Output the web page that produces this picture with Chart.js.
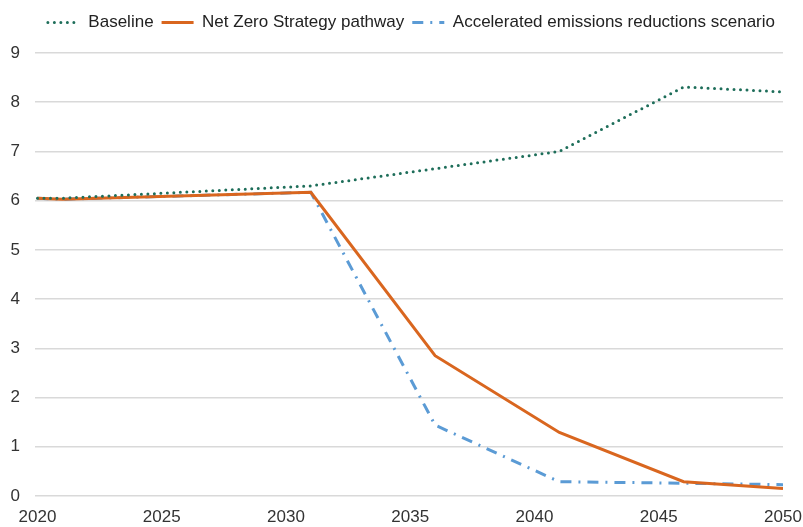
<!DOCTYPE html>
<html>
<head>
<meta charset="utf-8">
<script src="https://cdn.jsdelivr.net/npm/chart.js@4.4.0/dist/chart.umd.min.js"></script>
<style>
  html, body { margin: 0; padding: 0; background: #fff; }
  #wrap { width: 803px; height: 527px; }
</style>
</head>
<body>
<div id="wrap"><canvas id="chart" width="803" height="527"></canvas></div>
<script>
// jaren waarop de lijnen een knik hebben
const years = [2020, 2021, 2031, 2036, 2041, 2046, 2050];
const baseline = [6.05, 6.05, 6.3, 6.65, 7.0, 8.31, 8.21];
const netZero = [6.05, 6.03, 6.17, 2.85, 1.29, 0.29, 0.15];
const accelerated = [6.05, 6.03, 6.17, 1.44, 0.29, 0.26, 0.23];
const xTicks = [2020, 2025, 2030, 2035, 2040, 2045, 2050];
const yTicks = [0, 1, 2, 3, 4, 5, 6, 7, 8, 9];

const toPoints = vals => vals.map((v, i) => ({ x: years[i], y: v }));
const font = { family: '"Liberation Sans", Arial, sans-serif', size: 17 };

// legenda iets meer ruimte onder geven
const legendGap = {
    id: 'legendGap',
    beforeInit(chart) {
        const origFit = chart.legend.fit;
        chart.legend.fit = function () {
            origFit.call(this);
            this.height += 12;
        };
    }
};

const ctx = document.getElementById('chart').getContext('2d');
new Chart(ctx, {
    type: 'line',
    data: {
        datasets: [
            { label: 'Baseline', data: toPoints(baseline), borderColor: '#1e6e5a', borderWidth: 3,
              borderDash: [0, 6.5], borderCapStyle: 'round', pointRadius: 0, tension: 0, fill: false },
            { label: 'Net Zero Strategy pathway', data: toPoints(netZero), borderColor: '#d9661f', borderWidth: 3,
              pointRadius: 0, tension: 0, fill: false },
            { label: 'Accelerated emissions reductions scenario', data: toPoints(accelerated), borderColor: '#5b9bd5', borderWidth: 3,
              borderDash: [11, 7, 2, 7], pointRadius: 0, tension: 0, fill: false }
        ]
    },
    plugins: [legendGap],
    options: {
        responsive: false,
        animation: false,
        devicePixelRatio: 1,
        layout: { padding: { top: 6, right: 20, bottom: 0, left: 4 } },
        plugins: {
            tooltip: { enabled: false },
            legend: {
                position: 'top',
                align: 'end',
                labels: {
                    usePointStyle: true,
                    pointStyle: 'line',
                    pointStyleWidth: 32,
                    boxWidth: 32,
                    padding: 8,
                    color: '#222',
                    font: font,
                    generateLabels: chart => {
                        const items = Chart.defaults.plugins.legend.labels.generateLabels(chart);
                        items.forEach(it => {
                            const ds = chart.data.datasets[it.datasetIndex];
                            it.lineDash = ds.borderDash || [];
                            it.lineCap = ds.borderCapStyle || 'butt';
                        });
                        return items;
                    }
                }
            }
        },
        scales: {
            x: {
                type: 'linear',
                min: 2019.9,
                max: 2050,
                afterBuildTicks: axis => { axis.ticks = xTicks.map(v => ({ value: v })); },
                afterFit: s => { s.paddingLeft = 0; s.paddingRight = 0; s.height = 31; },
                grid: { display: false, drawTicks: false },
                border: { display: false },
                ticks: {
                    padding: 11,
                    maxRotation: 0,
                    color: '#333',
                    font: font,
                    callback: v => String(v)
                }
            },
            y: {
                min: 0,
                max: 9,
                afterBuildTicks: axis => { axis.ticks = yTicks.map(v => ({ value: v })); },
                afterFit: s => { s.width = 31; s.paddingTop = 0; s.paddingBottom = 0; },
                grid: { color: '#d9d9d9', lineWidth: 1.5, drawTicks: false },
                border: { display: false },
                ticks: {
                    padding: 15,
                    color: '#333',
                    font: font
                }
            }
        }
    }
});
</script>
</body>
</html>
